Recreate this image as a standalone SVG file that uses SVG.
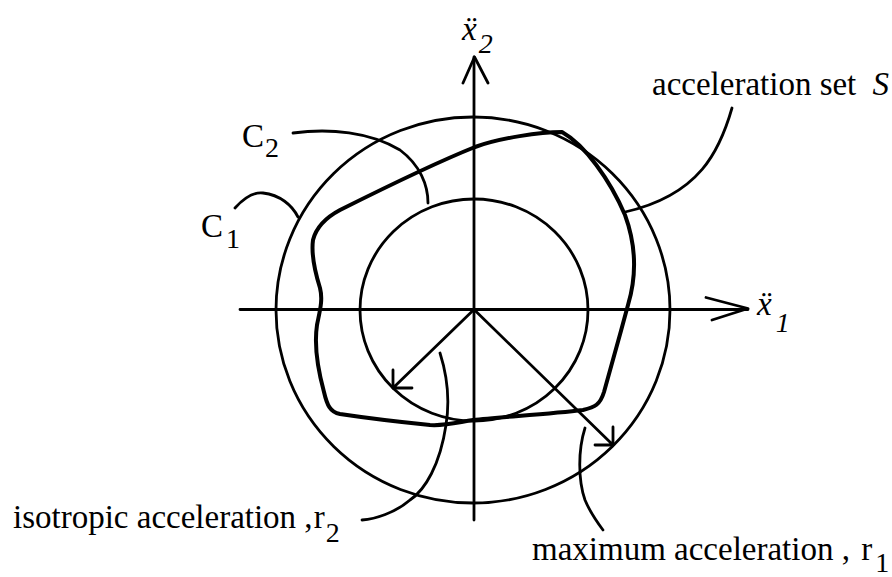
<svg xmlns="http://www.w3.org/2000/svg" width="892" height="577" viewBox="0 0 892 577">
<style>
.ln{fill:none;stroke:#000;stroke-width:2.8;stroke-linecap:round;stroke-linejoin:round}
.thick{fill:none;stroke:#000;stroke-width:4;stroke-linejoin:round}
text{font-family:'Liberation Serif','Times New Roman',serif;font-size:33px;fill:#000}
.sub{font-size:28px}
.it{font-style:italic}
</style>
<rect width="892" height="577" fill="#fff"/>
<g id="axes">
<path class="ln" d="M240,309.5 H748 M474,520 V57"/>
<path class="ln" d="M463,83 L474.5,57 L488,83 M706,297.5 L748,308.5 L712,320"/>
</g>
<g id="circle-c1"><ellipse class="ln" cx="473" cy="310" rx="197" ry="193"/></g>
<g id="circle-c2"><ellipse class="ln" cx="474" cy="310" rx="114" ry="111"/></g>
<g id="set-s">
<path class="thick" d="M562,132 C585,145 610,180 625,215 C636,245 637,275 628,305 C620,335 610,370 604,392 C600,405 595,407 583,410 C550,414 500,417 473,420 C455,423 445,426 430,425 C400,422 360,417 340,414 C330,412 327,405 324,392 C318,370 314,345 317,325 C320,310 323,300 320,288 C315,272 311,255 313,240 C316,228 325,218 340,210 C380,190 430,165 475,147 C500,138 540,132 562,132 Z"/>
</g>
<g id="connectors">
<path class="ln" d="M474,309.5 L393,388 M393,370 V388 H412"/>
<path class="ln" d="M474,309.5 L613,445 M613,427 V445 H595"/>
<path class="ln" d="M293,133 C330,128 370,132 400,150 C420,165 428,185 428,203"/>
<path class="ln" d="M235,208 C245,197 255,192 263,193 C280,195 292,205 298,217"/>
<path class="ln" d="M732,108 C720,150 700,195 625,212"/>
<path class="ln" d="M440,353 C447,375 450,400 446,425 C440,465 425,490 410,500 C395,513 375,519 362,520"/>
<path class="ln" d="M585,428 C578,450 578,480 585,500 C590,512 597,522 603,530"/>
</g>
<g id="label-x2"><text class="it" x="462" y="40">x&#x308;<tspan class="sub" dx="2" dy="13">2</tspan></text></g>
<g id="label-x1"><text class="it" x="757" y="315">x&#x308;<tspan class="sub" dx="4" dy="17">1</tspan></text></g>
<g id="label-c2"><text x="242" y="147">C<tspan class="sub" dx="1" dy="10">2</tspan></text></g>
<g id="label-c1"><text x="201" y="237">C<tspan class="sub" dx="3" dy="11">1</tspan></text></g>
<g id="label-s"><text x="652" y="95">acceleration set <tspan class="it" dx="8">S</tspan></text></g>
<g id="label-r2"><text x="13" y="528">isotropic acceleration ,<tspan dx="1">r</tspan><tspan class="sub" dx="1" dy="14" font-size="30">2</tspan></text></g>
<g id="label-r1"><text x="532" y="560">maximum acceleration , <tspan dx="3">r</tspan><tspan class="sub" dx="3" dy="12">1</tspan></text></g>
</svg>
